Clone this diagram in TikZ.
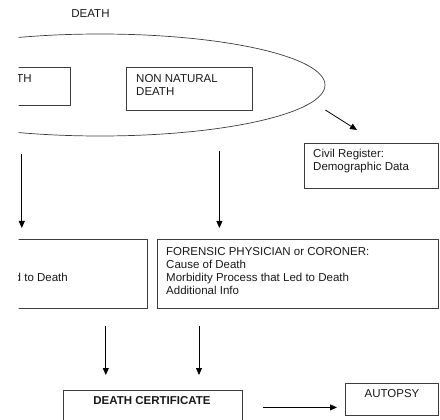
\documentclass[tikz,border=0pt]{standalone}
\usepackage{fontspec}
\setmainfont{Liberation Sans}
\usetikzlibrary{shapes.geometric,arrows.meta}
\definecolor{boxline}{RGB}{60,60,60}
\definecolor{inktext}{RGB}{25,25,25}

\begin{document}
\begin{tikzpicture}[x=1pt, y=-1pt,
    box/.style={rectangle, draw=boxline, line width=0.8pt, anchor=north west, inner sep=0pt},
    txt/.style={font=\fontsize{11.5}{13}\selectfont, text=inktext, inner sep=0pt, align=left},
    arr/.style={-{Triangle[length=7pt, width=6pt]}, line width=0.8pt, black}
]
\useasboundingbox (0,0) rectangle (440,420);
\clip (18.5,0) rectangle (440,420);

\node[txt] (deathlbl) at (90.5,13.5) {DEATH};
\node[ellipse, draw=boxline, line width=0.7pt, minimum width=450pt, minimum height=102pt, inner sep=0pt] (deathell) at (100,85) {};

\node[box, minimum width=150pt, minimum height=38pt] (natbox) at (-80,67) {};
\node[txt, anchor=north east] (nattxt) at (32,74) {NATURAL DEATH};
\node[box, minimum width=126pt, minimum height=43pt] (nonnat) at (126,67) {};
\node[txt, anchor=north west] (nonnattxt) at (136,74) {NON NATURAL\\DEATH};

\node[box, minimum width=134pt, minimum height=45pt] (civ) at (304,143) {};
\node[txt, anchor=north west] (civtxt) at (313,149) {Civil Register:\\Demographic Data};

\node[box, minimum width=277pt, minimum height=69pt] (treat) at (-130,239) {};
\node[txt, anchor=north east] (treattxt) at (68,273) {Morbidity Process that Led to Death};
\node[box, minimum width=281pt, minimum height=69pt] (forens) at (157,239) {};
\node[txt, anchor=north west] (forenstxt) at (166,247) {FORENSIC PHYSICIAN or CORONER:\\Cause of Death\\Morbidity Process that Led to Death\\Additional Info};

\node[box, minimum width=179pt, minimum height=50pt] (cert) at (63,390) {};
\node[txt, font=\fontsize{11.5}{13}\selectfont\bfseries] (certtxt) at (152,401) {DEATH CERTIFICATE};
\node[box, minimum width=93pt, minimum height=32pt] (autop) at (345,383) {};
\node[txt] (autoptxt) at (392,394) {AUTOPSY};

\draw[arr] ([yshift=-25pt]deathell.east) -- ([xshift=53pt, yshift=13pt]civ.north west);
\draw[arr, shorten <=48pt, shorten >=11pt] ([xshift=-49pt]natbox.south east) -- ([xshift=-49pt]natbox.south east |- treat.north);
\draw[arr, shorten <=40pt, shorten >=11pt] ([xshift=30pt]nonnat.south) -- ([xshift=30pt]nonnat.south |- forens.north);
\draw[arr, shorten <=17pt, shorten >=15pt] ([xshift=-42pt]treat.south east) -- ([xshift=-42pt]treat.south east |- cert.north);
\draw[arr, shorten <=17pt, shorten >=15pt] ([xshift=42pt]forens.south west) -- ([xshift=42pt]forens.south west |- cert.north);
\draw[arr, shorten <=20pt, shorten >=8pt] ([yshift=8pt]cert.east) -- ([yshift=8pt]cert.east -| autop.west);
\end{tikzpicture}
\end{document}
